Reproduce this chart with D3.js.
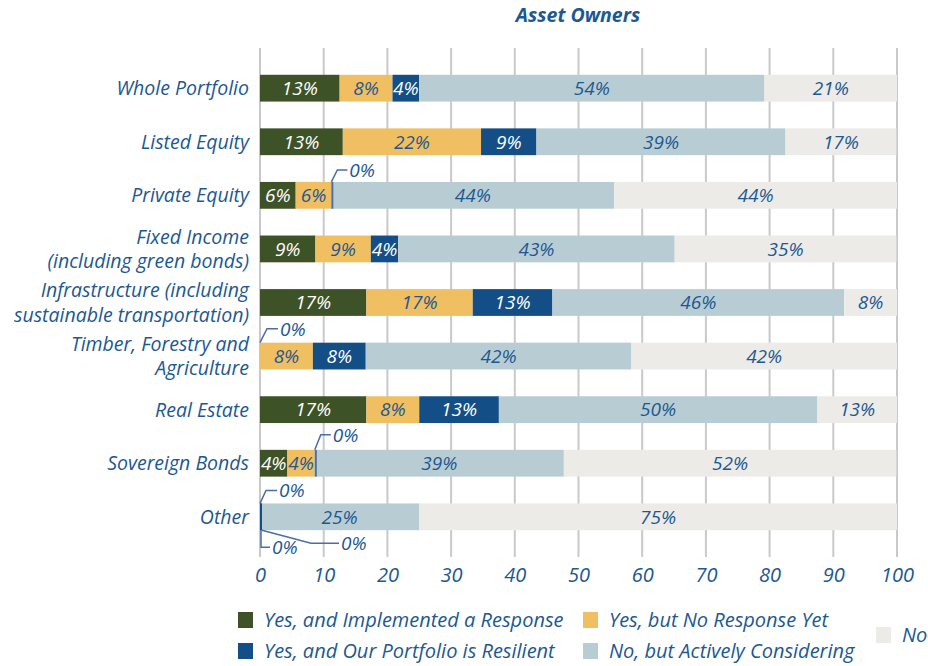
<!DOCTYPE html>
<html>
<head>
<meta charset="utf-8">
<script src="https://cdn.jsdelivr.net/npm/d3@7"></script>
<style>
  body { margin: 0; background: #fff; }
  text { font-family: "Open Sans", Lato, sans-serif; font-style: italic; }
</style>
</head>
<body>
<svg id="chart"></svg>
<script>
// categories (multi-line labels split into lines)
const categories = ["Whole Portfolio", "Listed Equity", "Private Equity", "Fixed Income", "Infrastructure",
  "Timber", "Real Estate", "Sovereign Bonds", "Other"];
const categoryLines = [["Whole Portfolio"], ["Listed Equity"], ["Private Equity"],
  ["Fixed Income", "(including green bonds)"], ["Infrastructure (including", "sustainable transportation)"],
  ["Timber, Forestry and", "Agriculture"], ["Real Estate"], ["Sovereign Bonds"], ["Other"]];

const seriesNames = ["Yes, and Implemented a Response", "Yes, but No Response Yet",
  "Yes, and Our Portfolio is Resilient", "No, but Actively Considering", "No"];

// percent of respondents
const implemented = [12.5, 13.0, 5.6, 8.7, 16.7, 0, 16.7, 4.3, 0];
const noResponse  = [8.3, 21.7, 5.6, 8.7, 16.7, 8.3, 8.3, 4.3, 0];
const resilient   = [4.2, 8.7, 0, 4.3, 12.5, 8.3, 12.5, 0, 0];
const considering = [54.2, 39.1, 44.4, 43.4, 45.8, 41.7, 50, 39.1, 25];
const no          = [20.8, 17.4, 44.4, 34.8, 8.3, 41.7, 12.5, 52.2, 75];

const xTicks = [0, 10, 20, 30, 40, 50, 60, 70, 80, 90, 100];

const colors = ["#3e5227", "#f0bf62", "#134f86", "#b8cdd3", "#ecebe7"];
const textBlue = "#1d5892";

// leader lines for the 0% segments: offset path from bar top/bottom
const callouts = [
  { cat: "Private Equity", s: 2, side: "top", pts: [[0, 0], [6, -12], [16, -12]] },
  { cat: "Timber", s: 0, side: "top", pts: [[0, 0], [7, -14], [18, -14]] },
  { cat: "Sovereign Bonds", s: 2, side: "top", pts: [[0, 0], [6, -15], [16, -15]] },
  { cat: "Other", s: 0, side: "top", pts: [[0, 0], [6, -13], [17, -13]] },
  { cat: "Other", s: 1, side: "bottom", pts: [[1, 0], [1, 17], [10, 17]] },
  { cat: "Other", s: 2, side: "bottom", pts: [[2, 0], [51, 13], [79, 13]] }
];

class StackedBar {
  constructor(config, data) {
    this.config = {
      parent: config.parent,
      width: config.width || 928,
      height: config.height || 666,
      left: config.left,
      right: config.right,
      top: config.top,
      bottom: config.bottom
    };
    this.data = data;
    this.init();
  }

  init() {
    let self = this;
    self.svg = d3.select(self.config.parent)
      .attr('width', self.config.width)
      .attr('height', self.config.height);

    self.xscale = d3.scaleLinear().domain([0, 100]).range([self.config.left, self.config.right]);
    self.yscale = d3.scaleBand().domain(categories).range([self.config.top, self.config.bottom]).padding(0.5);

    self.stack = d3.stack().keys(d3.range(5))(self.data);
    self.render();
  }

  render() {
    let self = this;
    const x = self.xscale, y = self.yscale;

    // title
    self.svg.append('text')
      .attr('x', 578).attr('y', 22)
      .attr('text-anchor', 'middle')
      .style('font-size', '19.5px').style('font-weight', 'bold')
      .attr('fill', textBlue)
      .text('Asset Owners');

    // grid
    self.svg.append('g').selectAll('line')
      .data(xTicks).join('line')
      .attr('x1', d => x(d)).attr('x2', d => x(d))
      .attr('y1', self.config.top).attr('y2', self.config.bottom)
      .attr('stroke', '#c9c9c9').attr('stroke-width', 2);

    // x axis
    const xaxis = d3.axisBottom(x).tickValues(xTicks).tickSize(0).tickPadding(11);
    const ag = self.svg.append('g')
      .attr('transform', `translate(0, ${self.config.bottom})`)
      .call(xaxis);
    ag.select('.domain').remove();
    ag.selectAll('text').style('font-size', '20px').attr('fill', textBlue)
      .style('font-family', '"Open Sans", sans-serif');

    // bars
    const layers = self.svg.append('g').selectAll('g')
      .data(self.stack).join('g')
      .attr('fill', (d, i) => colors[i]);

    layers.selectAll('rect')
      .data(d => d.filter(p => p[1] - p[0] > 0))
      .join('rect')
      .attr('x', d => x(d[0]))
      .attr('y', d => y(d.data.cat))
      .attr('width', d => x(d[1]) - x(d[0]))
      .attr('height', y.bandwidth());

    // value labels
    layers.selectAll('text')
      .data((d, i) => d.filter(p => p[1] - p[0] > 0).map(p => ({ p: p, s: i })))
      .join('text')
      .attr('x', d => (x(d.p[0]) + x(d.p[1])) / 2)
      .attr('y', d => y(d.p.data.cat) + y.bandwidth() / 2)
      .attr('dy', '0.36em')
      .attr('text-anchor', 'middle')
      .style('font-size', '19px')
      .attr('fill', d => (d.s === 0 || d.s === 2) ? '#fff' : textBlue)
      .text(d => Math.round(d.p[1] - d.p[0]) + '%');

    // zero segments + callouts
    const cg = self.svg.append('g');
    callouts.forEach(c => {
      const p = self.stack[c.s].find(q => q.data.cat === c.cat);
      const x0 = x(p[0]);
      const yTop = y(c.cat), yBot = yTop + y.bandwidth();
      if (c.s > 0) {
        cg.append('line')
          .attr('x1', x0 + 1).attr('x2', x0 + 1)
          .attr('y1', yTop).attr('y2', yBot)
          .attr('stroke', c.cat === 'Other' ? '#134f86' : '#4a6ea8').attr('stroke-width', 2);
      }
      const y0 = c.side === 'top' ? yTop : yBot;
      cg.append('path')
        .attr('d', d3.line()(c.pts.map(q => [x0 + q[0], y0 + q[1]])))
        .attr('fill', 'none').attr('stroke', '#4a6ea8').attr('stroke-width', 1.5);
      const last = c.pts[c.pts.length - 1];
      cg.append('text')
        .attr('x', x0 + last[0] + 2).attr('y', y0 + last[1])
        .attr('dy', '0.36em')
        .style('font-size', '19px')
        .attr('fill', textBlue)
        .text('0%');
    });

    // category labels
    const lab = self.svg.append('g').selectAll('text')
      .data(categories).join('text')
      .attr('x', self.config.left - 11)
      .attr('y', d => y(d) + y.bandwidth() / 2)
      .attr('text-anchor', 'end')
      .style('font-size', '19.5px')
      .attr('fill', textBlue);
    lab.each(function (d, i) {
      const lines = categoryLines[i];
      d3.select(this).selectAll('tspan')
        .data(lines).join('tspan')
        .attr('x', self.config.left - 11)
        .attr('dy', (l, j) => j === 0 ? (0.36 - (lines.length - 1) * 0.62) + 'em' : '1.24em')
        .text(l => l);
    });

    // legend
    const legend = [
      { s: 0, x: 238, y: 620 }, { s: 1, x: 583, y: 620 },
      { s: 2, x: 238, y: 651 }, { s: 3, x: 583, y: 651 },
      { s: 4, x: 876, y: 635 }
    ];
    const lg = self.svg.append('g').selectAll('g')
      .data(legend).join('g')
      .attr('transform', d => `translate(${d.x}, ${d.y})`);
    lg.append('rect')
      .attr('x', 0).attr('y', -8).attr('width', 15).attr('height', 16)
      .attr('fill', d => colors[d.s]);
    lg.append('text')
      .attr('x', 26).attr('dy', '0.36em')
      .style('font-size', '20px')
      .attr('fill', textBlue)
      .text(d => seriesNames[d.s]);
  }
}

const rows = categories.map((c, i) => ({
  cat: c, 0: implemented[i], 1: noResponse[i], 2: resilient[i], 3: considering[i], 4: no[i]
}));

new StackedBar({ parent: '#chart', width: 928, height: 666, left: 260, right: 897, top: 48, bottom: 557 }, rows);
</script>
</body>
</html>
